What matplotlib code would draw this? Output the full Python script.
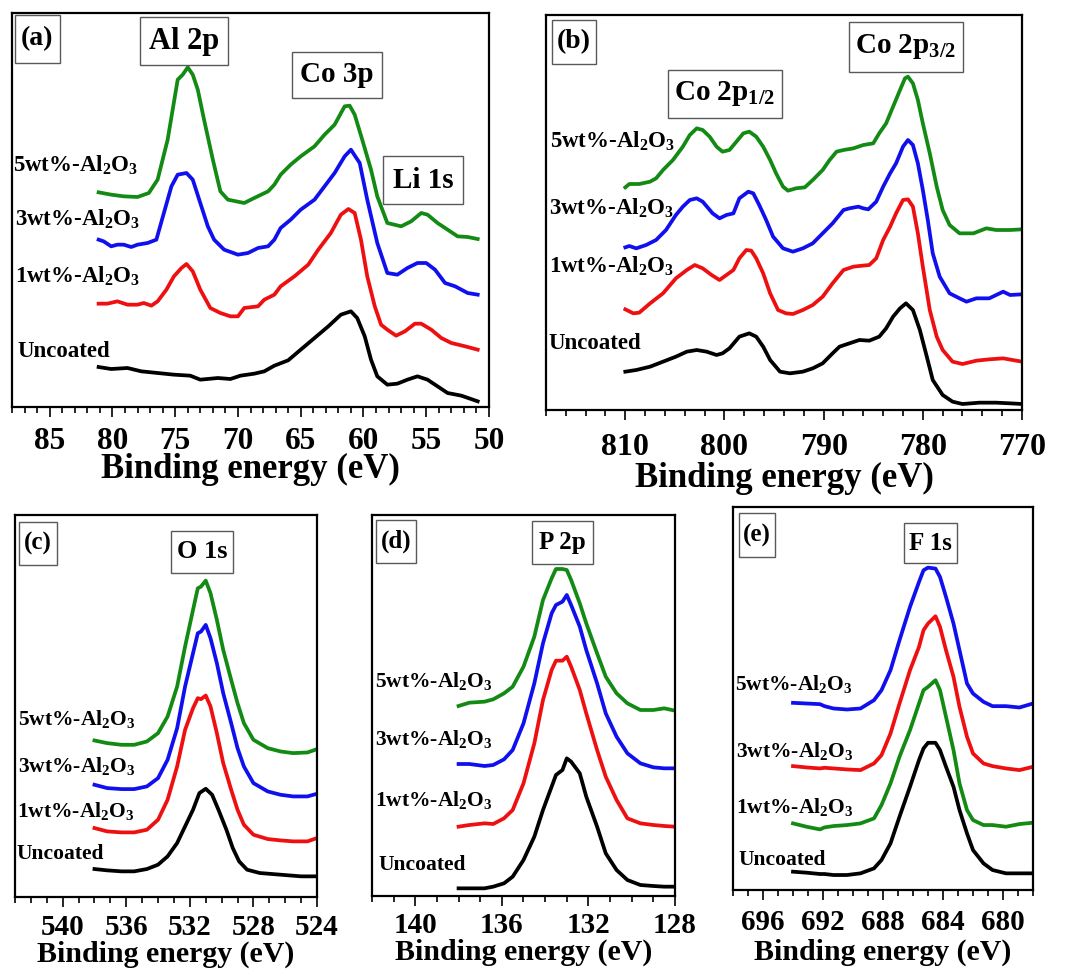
import numpy as np
import matplotlib
matplotlib.use("Agg")
import matplotlib.pyplot as plt
from matplotlib.patches import Rectangle
from matplotlib.ticker import MultipleLocator

plt.rcParams['font.family'] = ['Liberation Serif', 'DejaVu Serif']
plt.rcParams['font.weight'] = 'bold'
plt.rcParams['mathtext.fontset'] = 'custom'
plt.rcParams['mathtext.rm'] = 'Liberation Serif:bold'
plt.rcParams['mathtext.default'] = 'regular'

# ---------------- data ----------------
labels = ['5wt%-Al$_2$O$_3$', '3wt%-Al$_2$O$_3$', '1wt%-Al$_2$O$_3$', 'Uncoated']

# (a) Al 2p / Co 3p / Li 1s
a_green_E = [81.1, 80.1, 79.1, 78.0, 77.1, 76.4, 75.6, 74.8, 74.4, 74.0, 73.6, 73.2, 72.7, 72.0, 71.4, 70.8, 69.5, 68.7, 67.6, 67.1, 66.6, 65.8, 65.0, 63.9, 63.1, 62.3, 61.5, 61.1, 60.7, 60.1, 59.4, 58.9, 58.1, 57.0, 56.2, 55.4, 54.9, 54.1, 53.3, 52.5, 51.7, 50.9]
a_green_I = [644, 637, 632, 630, 642, 682, 802, 982, 997, 1019, 997, 952, 862, 742, 647, 622, 612, 627, 647, 667, 697, 727, 752, 782, 817, 847, 902, 904, 877, 802, 712, 632, 552, 542, 557, 582, 577, 552, 532, 512, 510, 504]
a_blue_E = [81.1, 80.7, 80.1, 79.6, 79.1, 78.5, 78.0, 77.2, 76.5, 75.9, 75.3, 74.8, 74.1, 73.6, 73.0, 72.4, 71.9, 71.1, 70.0, 69.2, 68.4, 67.6, 67.1, 66.6, 65.8, 65.0, 63.9, 63.1, 62.3, 61.5, 61.0, 60.3, 59.7, 58.9, 58.1, 57.3, 56.5, 55.7, 55.0, 54.3, 53.5, 52.7, 51.7, 50.9]
a_blue_I = [502, 497, 482, 487, 487, 480, 487, 492, 502, 582, 662, 697, 702, 682, 612, 542, 502, 472, 457, 462, 477, 482, 502, 537, 562, 592, 622, 662, 702, 752, 772, 732, 622, 492, 402, 397, 417, 432, 432, 412, 372, 362, 342, 337]
a_red_E = [81.1, 80.4, 79.6, 78.8, 78.0, 77.5, 76.9, 76.4, 75.7, 75.1, 74.5, 74.1, 73.6, 73.0, 72.2, 71.4, 70.6, 70.0, 69.5, 68.4, 67.9, 67.1, 66.6, 65.5, 64.4, 63.6, 62.6, 61.8, 61.2, 60.7, 60.2, 59.7, 59.1, 58.6, 58.1, 57.4, 56.7, 55.9, 55.4, 54.6, 53.8, 53.0, 51.9, 50.9]
a_red_I = [310, 310, 317, 307, 307, 312, 304, 317, 352, 392, 417, 429, 407, 352, 297, 282, 272, 272, 297, 302, 322, 337, 362, 392, 427, 472, 522, 577, 594, 582, 502, 392, 302, 247, 232, 214, 227, 250, 250, 232, 207, 192, 182, 172]
a_black_E = [81.1, 80.1, 78.8, 77.7, 76.4, 75.1, 73.8, 73.0, 71.6, 70.6, 69.8, 68.7, 67.9, 67.1, 66.0, 65.0, 63.9, 62.8, 61.8, 61.0, 60.5, 59.9, 59.4, 58.9, 58.1, 57.3, 56.5, 55.7, 54.9, 54.1, 53.3, 52.2, 50.9]
a_black_I = [120, 114, 117, 107, 102, 97, 94, 82, 87, 84, 94, 100, 107, 124, 140, 172, 207, 242, 277, 287, 267, 212, 142, 92, 67, 70, 82, 92, 82, 62, 42, 34, 17]

# (b) Co 2p
b_green_E = [810.0, 809.6, 808.6, 807.5, 806.9, 806.2, 805.2, 804.2, 803.5, 802.8, 802.2, 801.5, 800.8, 800.2, 799.5, 798.8, 798.1, 797.5, 796.8, 796.1, 795.4, 794.8, 794.1, 793.6, 792.8, 791.9, 791.1, 790.1, 789.4, 788.7, 788.0, 787.0, 786.0, 785.0, 784.4, 783.7, 783.0, 782.3, 781.8, 781.5, 781.0, 780.5, 780.0, 779.3, 778.6, 778.0, 777.3, 776.3, 774.9, 773.6, 772.6, 771.2, 770.0]
b_green_I = [668, 678, 678, 685, 695, 720, 750, 790, 825, 845, 840, 820, 790, 775, 780, 805, 830, 835, 820, 790, 750, 710, 670, 658, 665, 668, 690, 720, 750, 775, 780, 785, 795, 800, 830, 860, 910, 960, 995, 1000, 980, 930, 860, 770, 670, 600, 555, 530, 530, 545, 540, 540, 542]
b_blue_E = [810.0, 809.6, 808.9, 807.9, 806.9, 805.9, 804.9, 804.2, 803.5, 802.8, 802.2, 801.2, 800.5, 799.8, 799.1, 798.5, 797.6, 797.1, 796.5, 795.8, 795.1, 794.1, 793.1, 792.1, 791.1, 790.1, 789.1, 788.0, 787.4, 786.5, 786.0, 785.5, 784.7, 784.0, 783.3, 782.7, 782.0, 781.5, 781.0, 780.5, 780.0, 779.5, 779.0, 778.3, 777.3, 776.3, 775.6, 774.6, 773.3, 771.9, 771.2, 770.0]
b_blue_I = [488, 492, 485, 495, 510, 540, 585, 610, 630, 635, 625, 590, 575, 585, 590, 635, 655, 650, 615, 570, 520, 485, 475, 485, 500, 530, 560, 600, 605, 610, 605, 602, 625, 670, 710, 740, 790, 810, 795, 740, 660, 570, 470, 400, 350, 335, 325, 335, 335, 355, 345, 347]
b_red_E = [810.0, 809.2, 808.6, 807.5, 806.2, 804.9, 803.8, 803.0, 802.2, 801.3, 800.5, 799.8, 799.1, 798.5, 797.8, 797.3, 796.8, 796.1, 795.4, 794.6, 793.8, 793.1, 792.1, 791.1, 790.1, 789.1, 788.0, 787.0, 786.4, 785.4, 784.7, 784.0, 783.3, 782.7, 782.0, 781.5, 781.0, 780.5, 780.0, 779.3, 778.6, 778.0, 777.0, 776.0, 774.6, 773.3, 771.9, 770.0]
b_red_I = [302, 290, 292, 320, 350, 395, 420, 435, 425, 405, 390, 405, 420, 455, 480, 478, 455, 410, 350, 300, 290, 288, 300, 315, 340, 380, 420, 430, 432, 435, 455, 510, 550, 590, 630, 632, 610, 530, 430, 300, 220, 180, 145, 138, 148, 152, 155, 145]
b_black_E = [810.0, 808.9, 807.5, 806.2, 804.9, 803.8, 802.8, 801.8, 800.8, 800.2, 799.5, 798.5, 797.5, 796.8, 796.1, 795.4, 794.4, 793.4, 792.1, 791.1, 790.1, 789.1, 788.4, 787.4, 786.4, 785.4, 784.4, 783.7, 783.0, 782.3, 781.7, 781.0, 780.3, 779.6, 779.0, 778.0, 777.0, 776.0, 774.3, 772.6, 771.2, 770.0]
b_black_I = [115, 120, 130, 145, 160, 175, 180, 175, 165, 170, 185, 220, 230, 220, 190, 150, 115, 110, 115, 125, 140, 170, 190, 200, 210, 208, 220, 245, 280, 305, 320, 300, 240, 160, 90, 45, 25, 18, 22, 22, 20, 18]

# (c) O 1s
c_E = [538.0, 537.2, 536.3, 535.5, 534.7, 534.0, 533.4, 532.8, 532.3, 531.8, 531.5, 531.3, 531.0, 530.7, 530.3, 529.9, 529.4, 529.0, 528.6, 528.0, 527.1, 526.3, 525.5, 524.6, 524.0]
c_green_I = [470, 462, 457, 457, 467, 492, 542, 632, 752, 862, 927, 932, 950, 912, 832, 742, 652, 582, 522, 472, 447, 437, 432, 434, 444]
c_blue_I = [337, 327, 324, 324, 332, 357, 412, 507, 632, 732, 792, 797, 817, 777, 702, 612, 522, 447, 392, 342, 317, 307, 302, 302, 310]
c_red_I = [207, 197, 194, 194, 202, 232, 292, 392, 502, 567, 597, 594, 605, 572, 492, 402, 322, 262, 217, 187, 174, 170, 167, 167, 177]
c_black_E = [538.0, 537.2, 536.3, 535.5, 534.7, 534.0, 533.4, 532.8, 532.3, 531.8, 531.4, 531.0, 530.6, 530.2, 529.7, 529.3, 528.9, 528.4, 527.6, 526.3, 525.0, 524.0]
c_black_I = [84, 80, 77, 77, 84, 97, 122, 162, 212, 262, 312, 325, 307, 262, 202, 147, 107, 82, 72, 67, 62, 62]

# (d) P 2p
d_E = [138.0, 137.5, 136.8, 136.4, 135.9, 135.5, 135.0, 134.5, 134.1, 133.7, 133.5, 133.2, 133.0, 132.8, 132.4, 132.1, 131.6, 131.2, 130.7, 130.2, 129.6, 129.0, 128.5, 128.0]
d_green_I = [570, 580, 583, 590, 608, 628, 688, 778, 888, 953, 981, 981, 978, 948, 878, 818, 728, 658, 608, 578, 558, 558, 563, 556]
d_blue_I = [396, 396, 390, 393, 410, 438, 518, 638, 758, 848, 873, 883, 903, 873, 808, 738, 638, 548, 478, 428, 398, 386, 383, 383]
d_red_I = [208, 213, 218, 216, 233, 258, 338, 458, 588, 678, 706, 706, 718, 688, 618, 548, 438, 358, 288, 233, 218, 213, 210, 208]
d_black_I = [23, 23, 23, 28, 38, 58, 108, 178, 258, 328, 363, 378, 413, 403, 368, 298, 208, 128, 78, 48, 33, 30, 28, 28]

# (e) F 1s
e_E = [694.0, 693.1, 692.2, 691.9, 691.3, 690.4, 689.5, 688.6, 688.1, 687.5, 686.9, 686.2, 685.6, 685.3, 685.0, 684.5, 684.2, 683.8, 683.3, 682.9, 682.4, 682.0, 681.3, 680.7, 679.8, 678.9, 678.0]
e_blue_I = [562, 560, 558, 552, 545, 542, 545, 570, 600, 660, 750, 850, 925, 960, 968, 965, 940, 880, 800, 720, 620, 590, 565, 552, 552, 548, 560]
e_red_I = [372, 368, 365, 367, 365, 362, 360, 380, 405, 470, 560, 660, 730, 780, 800, 822, 790, 720, 640, 550, 460, 410, 380, 372, 365, 360, 370]
e_green_I = [200, 190, 182, 188, 192, 195, 200, 215, 255, 320, 400, 480, 560, 600, 610, 630, 600, 520, 420, 320, 240, 210, 195, 195, 190, 198, 202]
e_black_I = [55, 52, 48, 48, 45, 45, 50, 65, 90, 140, 220, 310, 390, 425, 442, 442, 420, 370, 310, 240, 170, 120, 80, 60, 50, 50, 50]

GREEN, BLUE, RED, BLACK = '#138a13', '#1010ee', '#ee1010', '#000000'

# ---------------- figure ----------------
W, H = 1067, 969
fig = plt.figure(figsize=(W / 100, H / 100), dpi=100)


def px_axes(l, t, r, b):
    return fig.add_axes([l / W, 1 - b / H, (r - l) / W, (b - t) / H])


def style(ax, xlim, ylim, major, minor, tick_fs, lab_fs, pad, labelpad):
    ax.set_xlim(*xlim)
    ax.set_ylim(*ylim)
    ax.xaxis.set_major_locator(MultipleLocator(major))
    ax.xaxis.set_minor_locator(MultipleLocator(minor))
    ax.set_yticks([])
    ax.tick_params(axis='x', which='major', direction='out', length=7, width=1.2,
                   labelsize=tick_fs, pad=pad, top=False)
    ax.tick_params(axis='x', which='minor', direction='out', length=4, width=1.2, top=False)
    for sp in ax.spines.values():
        sp.set_linewidth(1.6)
    for lab in ax.get_xticklabels():
        lab.set_fontweight('bold')
    ax.set_xlabel('Binding energy (eV)', fontsize=lab_fs, fontweight='bold', labelpad=labelpad)


def box(x0, y0, x1, y1, text, fs, va='center', ty=None):
    r = Rectangle((x0 / W, 1 - y1 / H), (x1 - x0) / W, (y1 - y0) / H,
                  transform=fig.transFigure, facecolor='white', edgecolor='0.35', lw=1.0, zorder=5)
    fig.add_artist(r)
    cy = (y0 + y1) / 2 if ty is None else ty
    fig.text((x0 + x1) / 2 / W, 1 - cy / H, text, ha='center', va=va, fontsize=fs,
             fontweight='bold', zorder=6)


def series_labels(pos, fs):
    for (x, y), s in zip(pos, labels):
        fig.text(x / W, 1 - y / H, s, ha='left', va='baseline', fontsize=fs, fontweight='bold')


lw = 2.7

# (a)
ax = px_axes(12, 13, 489, 407)
ax.plot(a_green_E, a_green_I, color=GREEN, lw=lw)
ax.plot(a_blue_E, a_blue_I, color=BLUE, lw=lw)
ax.plot(a_red_E, a_red_I, color=RED, lw=lw)
ax.plot(a_black_E, a_black_I, color=BLACK, lw=lw)
style(ax, (88, 50), (0, 1182), 5, 1, 22.5, 25, 7.4, -2)
box(15, 15, 60, 63, '(a)', 20)
box(140, 17, 228, 65, 'Al 2p', 22)
box(292, 52, 382, 98, 'Co 3p', 21)
box(383, 156, 463, 204, 'Li 1s', 21)
series_labels([(13, 172), (15, 226), (15, 283), (17, 357)], 16.5)

# (b)
ax = px_axes(546, 15, 1022, 410)
ax.plot(b_green_E, b_green_I, color=GREEN, lw=lw)
ax.plot(b_blue_E, b_blue_I, color=BLUE, lw=lw)
ax.plot(b_red_E, b_red_I, color=RED, lw=lw)
ax.plot(b_black_E, b_black_I, color=BLACK, lw=lw)
style(ax, (818, 770), (0, 1185), 10, 2, 23, 25, 9.6, 0)
box(552, 20, 596, 64, '(b)', 20)
box(668, 70, 782, 118, 'Co 2p$_{1/2}$', 21, va='baseline', ty=100)
box(849, 22, 963, 72, 'Co 2p$_{3/2}$', 21, va='baseline', ty=53)
series_labels([(550, 148), (549, 215), (549, 273), (548, 349)], 16.5)

# (c)
ax = px_axes(15, 515, 317, 897)
ax.plot(c_E, c_green_I, color=GREEN, lw=lw)
ax.plot(c_E, c_blue_I, color=BLUE, lw=lw)
ax.plot(c_E, c_red_I, color=RED, lw=lw)
ax.plot(c_black_E, c_black_I, color=BLACK, lw=lw)
style(ax, (543, 524), (0, 1147), 4, 1, 21, 21.5, 5.3, -0.5)
box(19, 522, 57, 565, '(c)', 18)
box(171, 531, 233, 573, 'O 1s', 19)
series_labels([(18, 725), (18, 772), (17, 817), (16, 859)], 15.5)

# (d)
ax = px_axes(372, 515, 675, 896)
ax.plot(d_E, d_green_I, color=GREEN, lw=lw)
ax.plot(d_E, d_blue_I, color=BLUE, lw=lw)
ax.plot(d_E, d_red_I, color=RED, lw=lw)
ax.plot(d_E, d_black_I, color=BLACK, lw=lw)
style(ax, (142, 128), (0, 1143), 4, 1, 21, 21.5, 4.5, 0)
box(376, 520, 416, 563, '(d)', 18)
box(532, 521, 593, 564, 'P 2p', 18)
series_labels([(375, 687), (375, 745), (375, 806), (378, 870)], 15.5)

# (e)
ax = px_axes(733, 507, 1033, 890)
ax.plot(e_E, e_blue_I, color=BLUE, lw=lw)
ax.plot(e_E, e_red_I, color=RED, lw=lw)
ax.plot(e_E, e_green_I, color=GREEN, lw=lw)
ax.plot(e_E, e_black_I, color=BLACK, lw=lw)
style(ax, (698, 678), (0, 1150), 4, 1, 21, 21.5, 6.7, 2)
box(739, 513, 775, 557, '(e)', 18)
box(904, 523, 957, 563, 'F 1s', 18)
series_labels([(735, 690), (736, 757), (736, 813), (738, 865)], 15.5)

fig.savefig('out.png', dpi=100)
